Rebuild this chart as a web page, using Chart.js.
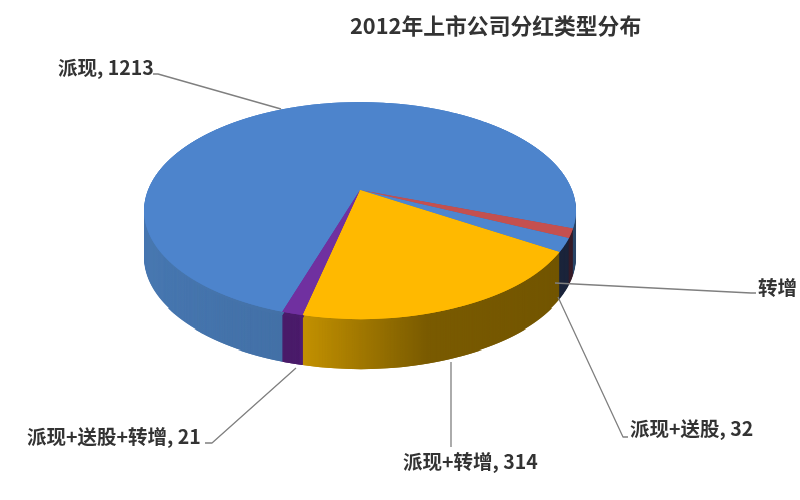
<!DOCTYPE html>
<html><head><meta charset="utf-8">
<style>html,body{margin:0;padding:0;background:#fff}canvas{display:block;filter:blur(0.4px)}</style>
<script src="https://cdn.jsdelivr.net/npm/chart.js@4"></script>
</head><body><canvas id="c" width="800" height="500"></canvas>
<script>
const chartTitle = '2012年上市公司分红类型分布';
const categories = ['派现', '转增', '派现+送股', '派现+转增', '派现+送股+转增'];
const values = [1213, 22, 32, 314, 21];
const labelTexts = ['派现, 1213', '转增', '派现+送股, 32', '派现+转增, 314', '派现+送股+转增, 21'];
const topColors = ['#4d84cc', '#c4504f', '#4d86cf', '#ffb900', '#7030a0'];
const wallColors = ['#4777b0', '#5c2f45', '#2c3d64', '#c49200', '#4e1d70'];

// projection of the flat pie into the tilted view
const view = {cx:360, tipY:190, rx:212, b:104.6, k:0.189, topRow:101, bottomRow:322};
const vOfRow = Y => { const d = Y - view.tipY; return d / (view.b + view.k * d); };
const depthAt = v => 47;

function drawArcs(ctx, arcs, colors) {
  arcs.forEach((el, i) => {
    const o = el.options;
    el.options = Object.assign({}, o, {backgroundColor: colors[i], borderWidth: 0, borderColor: colors[i]});
    el.draw(ctx);
    el.options = o;
  });
}
function rowTransform(ctx, Y, dy, c) {
  const v = vOfRow(Y + 0.5);
  const w = 1 - view.k * v;
  const sx = view.rx / w / c.r;
  const dYdv = view.b / (w * w);     // local vertical stretch
  const sy = dYdv / c.r;
  ctx.setTransform(sx, 0, 0, sy, view.cx - sx * c.x, Y + 0.5 + dy - sy * (c.y + v * c.r));
}
const pie3d = {
  id: 'pie3d',
  beforeDatasetsDraw(chart) {
    const ctx = chart.ctx, arcs = chart.getDatasetMeta(0).data;
    const c = {x: arcs[0].x, y: arcs[0].y, r: arcs[0].outerRadius};
    ctx.save();
    // wall: stacked layers, from the bottom up
    for (let d = 47; d > 0; d--) {
      for (let Y = 185; Y <= view.bottomRow; Y++) {
        const dy = d + (Y > 250 ? Math.min(3, (Y - 250) / 20) : 0);
        const row = Y + Math.round(dy);
        ctx.save();
        ctx.setTransform(1, 0, 0, 1, 0, 0);
        ctx.beginPath(); ctx.rect(0, row, 800, 2); ctx.clip();
        rowTransform(ctx, Y, Math.round(dy), c);
        drawArcs(ctx, arcs, wallColors);
        ctx.restore();
      }
    }
    // shading along the wall
    ctx.setTransform(1, 0, 0, 1, 0, 0);
    ctx.globalCompositeOperation = 'source-atop';
    const g = ctx.createLinearGradient(145, 0, 560, 0);
    g.addColorStop(0, 'rgba(0,0,0,0)');
    g.addColorStop(0.37, 'rgba(0,0,0,0.06)');
    g.addColorStop(0.375, 'rgba(0,0,0,0)');
    g.addColorStop(0.68, 'rgba(0,0,0,0.38)');
    g.addColorStop(1, 'rgba(0,0,0,0.42)');
    ctx.fillStyle = g; ctx.fillRect(0, 0, 800, 500);
    ctx.globalCompositeOperation = 'source-over';
    // top face
    for (let Y = view.topRow; Y <= view.bottomRow; Y++) {
      ctx.save();
      ctx.setTransform(1, 0, 0, 1, 0, 0);
      ctx.beginPath(); ctx.rect(0, Y, 800, 1); ctx.clip();
      rowTransform(ctx, Y, 0, c);
      drawArcs(ctx, arcs, topColors);
      drawArcs(ctx, arcs, topColors);
      ctx.restore();
    }
    ctx.restore();
    return false;
  },
  afterDraw(chart) {
    const ctx = chart.ctx;
    ctx.save();
    ctx.setTransform(1, 0, 0, 1, 0, 0);
    ctx.strokeStyle = '#7f7f7f'; ctx.lineWidth = 1.3; ctx.lineJoin = 'round';
    [
      [[153,74],[158,74],[281,109]],
      [[555,283],[751,293],[756,293]],
      [[558,297],[623,437],[628,437]],
      [[451,362],[451,447]],
      [[296,368],[212,443],[205,443]]
    ].forEach(p => {
      ctx.beginPath();
      p.forEach((q, i) => i ? ctx.lineTo(q[0], q[1]) : ctx.moveTo(q[0], q[1]));
      ctx.stroke();
    });
    ctx.textBaseline = 'middle'; ctx.textAlign = 'left';
    ctx.fillStyle = '#333';
    ctx.font = 'bold 21.8px "Noto Sans CJK SC"';
    ctx.fillText(chartTitle, 350, 26);
    ctx.font = 'bold 19.5px "Noto Sans CJK SC"';
    const at = [[58,68],[758,288],[630,429],[403,462],[27,437]];
    labelTexts.forEach((s, i) => ctx.fillText(s, at[i][0], at[i][1]));
    // page background behind everything
    ctx.globalCompositeOperation = 'destination-over';
    ctx.fillStyle = '#fff'; ctx.fillRect(0, 0, 800, 500);
    ctx.restore();
  }
};
new Chart(document.getElementById('c'), {
  type: 'pie',
  data: {labels: categories, datasets: [{data: values, backgroundColor: topColors, borderWidth: 0}]},
  options: {
    responsive: false, animation: false, devicePixelRatio: 1,
    rotation: 197.5,
    plugins: {legend: {display: false}, tooltip: {enabled: false}, title: {display: false}}
  },
  plugins: [pie3d]
});
</script></body></html>
